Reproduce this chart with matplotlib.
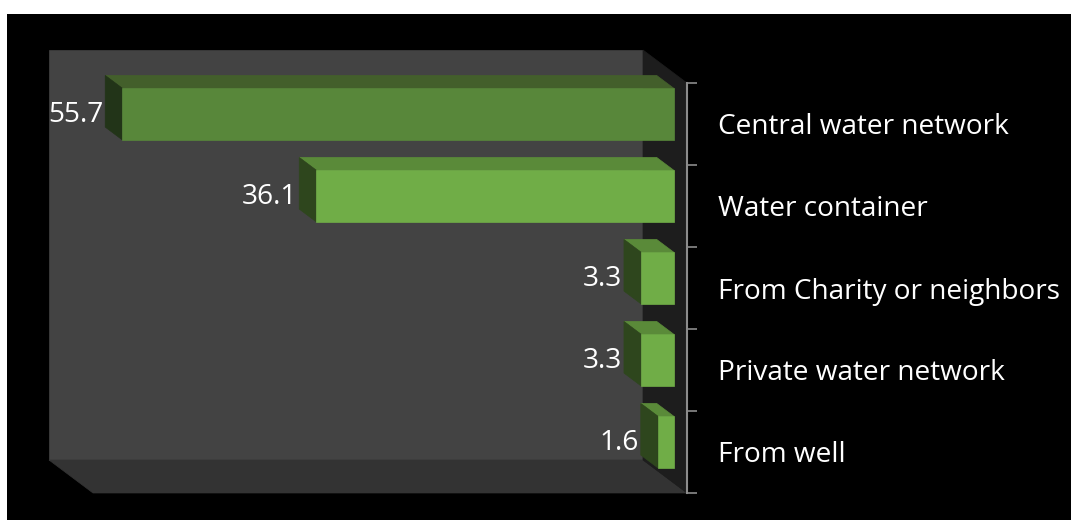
import matplotlib
matplotlib.use('Agg')
import matplotlib.pyplot as plt
from matplotlib.patches import Polygon, Rectangle
from matplotlib.transforms import IdentityTransform
import numpy as np

# ---- data ----
categories = ["Central water network", "Water container", "From Charity or neighbors",
              "Private water network", "From well"]
values = [55.7, 36.1, 3.3, 3.3, 1.6]
value_labels = ["55.7", "36.1", "3.3", "3.3", "1.6"]
x_max = 60

FONT = 'Open Sans'
FS = 20.2

# ---- figure ----
W, H = 1071, 520
DPI = 100
fig = plt.figure(figsize=(W / DPI, H / DPI), dpi=DPI, facecolor='white')
fig.patches.append(Rectangle((7 / W, 0), 1 - 7 / W, 1 - 14 / H, transform=fig.transFigure,
                             facecolor='black', edgecolor='none', zorder=-10))

ax = fig.add_axes([93 / W, 1 - 493 / H, (687 - 93) / W, (493 - 83) / H])
ax.set_zorder(1)
ax.set_facecolor('none')
n = len(categories)
ax.set_xlim(x_max, 0)
ax.set_ylim(n - 0.5, -0.5)

DX, DY = -44.0, 33.0        # depth vector of the 3D box in pixels
F1, F2 = 0.30, 0.69         # bar front / back depth fractions
BAR_H = 0.63

def pt(x, y, f):
    p = ax.transData.transform((x, y))
    return (p[0] + f * DX, p[1] + f * DY)

def poly(verts, color, z):
    ax.add_patch(Polygon(verts, closed=True, transform=IdentityTransform(), facecolor=color,
                         edgecolor=color, linewidth=0.5, zorder=z, clip_on=False))

ylo, yhi = n - 0.5, -0.5   # visual bottom, visual top
# back wall
poly([pt(x_max, ylo, 1), pt(0, ylo, 1), pt(0, yhi, 1), pt(x_max, yhi, 1)], '#434343', 0.5)
# floor
poly([pt(x_max, ylo, 0), pt(0, ylo, 0), pt(0, ylo, 1), pt(x_max, ylo, 1)], '#333333', 0.6)
# side wall
poly([pt(0, ylo, 0), pt(0, yhi, 0), pt(0, yhi, 1), pt(0, ylo, 1)], '#1d1d1d', 0.6)

front_c = ['#58873a', '#70ad47', '#70ad47', '#70ad47', '#70ad47']
top_c = ['#435f2b', '#5a8a39', '#5a8a39', '#5a8a39', '#5a8a39']
end_c = ['#223418', '#2e461d', '#2e461d', '#2e461d', '#2e461d']

for i, v in enumerate(values):
    yt, yb = i - BAR_H / 2, i + BAR_H / 2
    poly([pt(0, yt, F1), pt(v, yt, F1), pt(v, yt, F2), pt(0, yt, F2)], top_c[i], 2)
    poly([pt(v, yb, F1), pt(v, yt, F1), pt(v, yt, F2), pt(v, yb, F2)], end_c[i], 2)
    poly([pt(0, yb, F1), pt(v, yb, F1), pt(v, yt, F1), pt(0, yt, F1)], front_c[i], 2.1)
    ax.annotate(value_labels[i], xy=(v, i),
                xytext=((F2 * DX - 2) * 72 / DPI, 12 * 72 / DPI), textcoords='offset points',
                ha='right', va='center_baseline', color='white', fontsize=FS,
                family=FONT, zorder=3)

# axis
for s in ['left', 'top', 'bottom']:
    ax.spines[s].set_visible(False)
ax.spines['right'].set_color('#8c8c8c')
ax.spines['right'].set_linewidth(1.5)
ax.spines['right'].set_zorder(3)
ax.set_xticks([])
ax.yaxis.tick_right()
ax.set_yticks(np.arange(-0.5, n, 1.0))
ax.set_yticks(np.arange(n), minor=True)
ax.set_yticklabels([], minor=False)
ax.set_yticklabels(categories, minor=True, family=FONT, fontsize=FS, color='white')
ax.tick_params(axis='y', which='major', length=7.5, width=1.2, color='#8c8c8c',
               right=True, left=False, labelright=False, labelleft=False)
ax.tick_params(axis='y', which='minor', length=0, pad=22, right=True, left=False,
               labelright=True, labelleft=False)

fig.savefig('out.png', dpi=DPI, facecolor='white')
